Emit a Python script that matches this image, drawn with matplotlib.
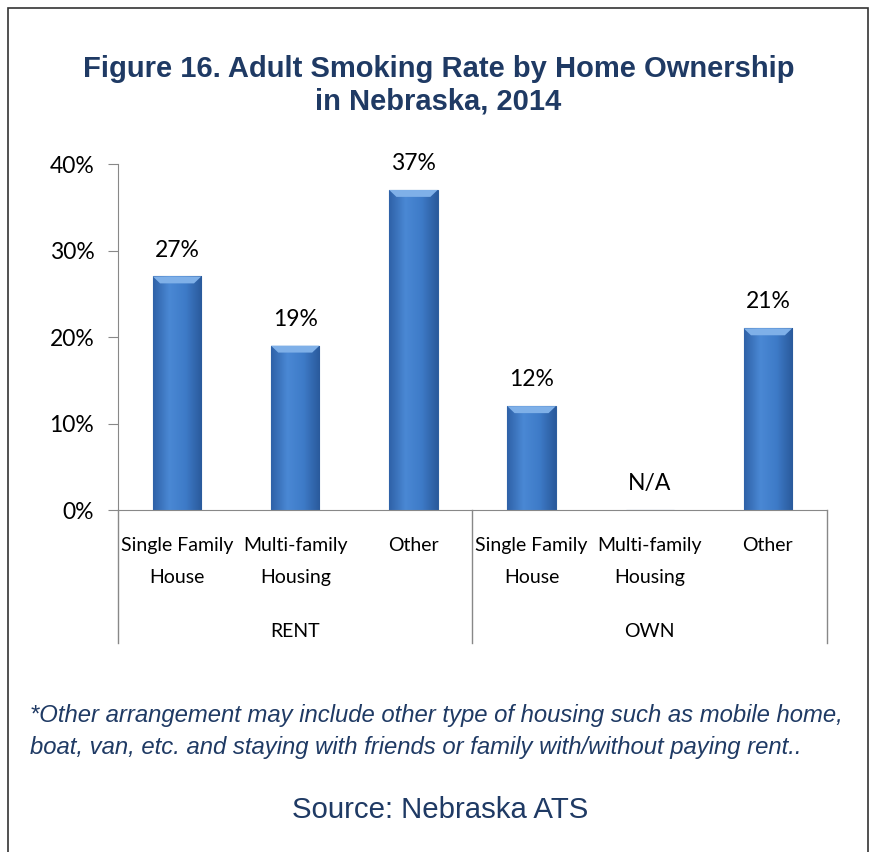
import numpy as np
import matplotlib.pyplot as plt
from matplotlib.patches import Rectangle
from matplotlib.colors import LinearSegmentedColormap
import matplotlib.transforms as mtransforms

## chart data
categories = ['Single Family\nHouse', 'Multi-family\nHousing', 'Other',
              'Single Family\nHouse', 'Multi-family\nHousing', 'Other']
groups = ['RENT', 'OWN']
rates = [27, 19, 37, 12, np.nan, 21]
value_labels = ['27%', '19%', '37%', '12%', 'N/A', '21%']
yticks = [0, 10, 20, 30, 40]

navy = '#1F3A64'
label_font = 'Lato'

fig = plt.figure(figsize=(8.77, 8.52), dpi=100)
ax = fig.add_axes([0.1345, 0.4014, 0.8085, 0.4061])

x = np.arange(len(categories))
heights = np.nan_to_num(rates)
bars = ax.bar(x, heights, width=0.41, color='#3B78C6', edgecolor='#2D5E9E',
              linewidth=0.8, zorder=2)

# shaded fill, a bit like the office style bevel
cmap = LinearSegmentedColormap.from_list('bev', ['#2F62A8', '#4A88D4', '#3E7BC8', '#2A5A9C'])
grad = np.linspace(0, 1, 64).reshape(1, -1)
for b in bars:
    if b.get_height() == 0:
        continue
    x0, w, h = b.get_x(), b.get_width(), b.get_height()
    im = ax.imshow(grad, cmap=cmap, aspect='auto', extent=[x0, x0 + w, 0, h],
                   zorder=2.1, interpolation='bicubic')
    im.set_clip_path(b)
    # light bevel at the top
    ax.fill([x0, x0 + w, x0 + w * 0.85, x0 + w * 0.15],
            [h, h, h - 0.8, h - 0.8], color='#7FB0E8', zorder=2.2, lw=0)

for xi, r, lab in zip(x, rates, value_labels):
    yy = 0 if np.isnan(r) else r
    ax.annotate(lab, (xi, yy), xytext=(0, 19), textcoords='offset points',
                ha='center', va='center', fontsize=16.5, family=label_font,
                color='black')

ax.set_xlim(-0.5, len(categories) - 0.5)
ax.set_ylim(0, 40)
ax.set_yticks(yticks)
ax.set_yticklabels([f'{t}%' for t in yticks], fontsize=16.5, family=label_font)
ax.tick_params(axis='y', length=7, color='#888888', pad=10)
ax.set_xticks([])

for side in ['top', 'right']:
    ax.spines[side].set_visible(False)
ax.spines['left'].set_color('#888888')
ax.spines['bottom'].set_color('#888888')

# category labels + group labels below the axis
trans = mtransforms.blended_transform_factory(ax.transData, ax.transAxes)
for xi, c in zip(x, categories):
    ax.text(xi, -0.078, c, ha='center', va='top', fontsize=14,
            family=label_font, linespacing=2.05, transform=trans)
for gi, g in enumerate(groups):
    ax.text(gi * 3 + 1, -0.35, g, ha='center', va='center', fontsize=14,
            family=label_font, transform=trans)
for xb in [-0.5, 2.5, 5.5]:
    ax.plot([xb, xb], [0, -0.385], color='#888888', lw=1, transform=trans,
            clip_on=False)

# title, footnote, source
fig.text(0.5, 0.9, 'Figure 16. Adult Smoking Rate by Home Ownership\nin Nebraska, 2014',
         ha='center', va='center', fontsize=21, fontweight='bold', color=navy,
         family='Liberation Sans', linespacing=1.18)
fig.text(0.034, 0.141, '*Other arrangement may include other type of housing such as mobile home,\n'
         'boat, van, etc. and staying with friends or family with/without paying rent..',
         ha='left', va='center', fontsize=17.2, style='italic', color=navy,
         family='Liberation Sans', linespacing=1.5)
fig.text(0.502, 0.049, 'Source: Nebraska ATS', ha='center', va='center',
         fontsize=21.2, color=navy, family='Liberation Sans')

# outer frame (bottom edge is cut off in the original)
fig.patches.append(Rectangle((0.009, -0.05), 0.981, 1.041, transform=fig.transFigure,
                             fill=False, edgecolor='#333333', lw=1.2))

fig.savefig('out.png', dpi=100)
